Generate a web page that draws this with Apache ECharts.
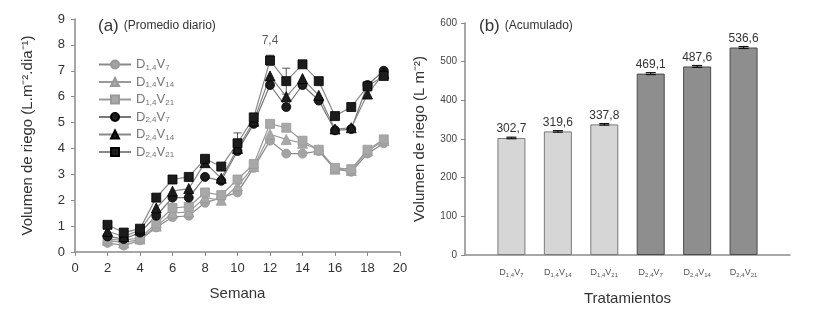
<!DOCTYPE html>
<html>
<head>
<meta charset="UTF-8">
<title>Volumen de riego</title>
<script src="https://cdn.jsdelivr.net/npm/echarts@6/dist/echarts.min.js"></script>
<style>
  html, body { margin: 0; padding: 0; background: #fff; }
  #main { width: 813px; height: 318px; }
</style>
</head>
<body>
<div id="main"></div>
<script>
// semanas
const weeks = [2, 3, 4, 5, 6, 7, 8, 9, 10, 11, 12, 13, 14, 15, 16, 17, 18, 19];
// promedio diario (L m-2 dia-1)
const d14v7  = [0.35, 0.25, 0.45, 0.95, 1.35, 1.4, 1.9, 2.1, 2.3, 3.25, 4.3, 3.8, 3.8, 3.9, 3.2, 3.1, 3.8, 4.2];
const d14v14 = [0.45, 0.35, 0.5, 1.0, 1.5, 1.55, 2.1, 2.0, 2.55, 3.3, 4.55, 4.35, 4.2, 3.95, 3.2, 3.15, 3.9, 4.3];
const d14v21 = [0.5, 0.45, 0.55, 1.1, 1.7, 1.75, 2.3, 2.2, 2.8, 3.4, 4.95, 4.8, 4.3, 3.95, 3.25, 3.2, 3.95, 4.35];
const d24v7  = [0.6, 0.5, 0.75, 1.4, 2.1, 2.1, 2.9, 2.75, 3.9, 4.95, 6.45, 5.6, 6.45, 5.85, 4.7, 4.75, 6.45, 7.0];
const d24v14 = [0.8, 0.6, 0.85, 1.7, 2.35, 2.45, 3.45, 2.85, 4.0, 5.05, 6.8, 6.0, 6.7, 6.05, 4.75, 4.8, 6.1, 6.9];
const d24v21 = [1.05, 0.75, 0.9, 2.1, 2.8, 2.9, 3.6, 3.3, 4.2, 5.2, 7.4, 6.6, 7.25, 6.6, 5.25, 5.6, 6.4, 6.8];
// error (solo los visibles)
const d24v21Err = [0, 0, 0, 0, 0, 0, 0.1, 0, 0.4, 0, 0.2, 0.5, 0, 0.1, 0, 0, 0, 0];

// acumulado
const treatments = ['D1,4V7', 'D1,4V14', 'D1,4V21', 'D2,4V7', 'D2,4V14', 'D2,4V21'];
const accum = [302.7, 319.6, 337.8, 469.1, 487.6, 536.6];
const accumErr = [2, 2, 2, 2.5, 2.5, 2.5];

const lineTicks = [0, 1, 2, 3, 4, 5, 6, 7, 8, 9];
const barTicks = [0, 100, 200, 300, 400, 500, 600];

const fontFam = 'Liberation Sans, Arial, sans-serif';

function sub(name, big, small) {
  const m = name.match(/D(.+)V(.+)/);
  return `{${big}|D}{${small}|${m[1]}}{${big}|V}{${small}|${m[2]}}`;
}

const chart = echarts.init(document.getElementById('main'));

const lineSeriesDef = [
  { name: 'D1,4V7',  data: d14v7,  symbol: 'circle',   fill: '#a3a3a3', line: '#8a8a8a' },
  { name: 'D1,4V14', data: d14v14, symbol: 'triangle', fill: '#a8a8a8', line: '#9a9a9a' },
  { name: 'D1,4V21', data: d14v21, symbol: 'rect',     fill: '#a8a8a8', line: '#9a9a9a' },
  { name: 'D2,4V7',  data: d24v7,  symbol: 'circle',   fill: '#1c1c1c', line: '#777' },
  { name: 'D2,4V14', data: d24v14, symbol: 'triangle', fill: '#1c1c1c', line: '#888' },
  { name: 'D2,4V21', data: d24v21, symbol: 'rect',     fill: '#1c1c1c', line: '#888' }
];

const series = lineSeriesDef.map(s => ({
  name: s.name,
  type: 'line',
  xAxisIndex: 0,
  yAxisIndex: 0,
  data: weeks.map((w, i) => [w, s.data[i]]),
  symbol: s.symbol,
  symbolSize: s.symbol === 'triangle' ? 10 : 9,
  lineStyle: { color: s.line, width: 1.2 },
  itemStyle: { color: s.fill, borderColor: s.fill === '#1c1c1c' ? '#000' : '#999', borderWidth: 0.8 },
  z: 3
}));

// barras de error serie D2,4V21
series.push({
  type: 'custom',
  xAxisIndex: 0,
  yAxisIndex: 0,
  data: weeks.map((w, i) => [w, d24v21[i], d24v21Err[i]]).filter(d => d[2] > 0),
  renderItem: function (params, api) {
    const x = api.value(0), y = api.value(1), e = api.value(2);
    const top = api.coord([x, y + e]);
    const bot = api.coord([x, y - e]);
    const style = { stroke: '#555', lineWidth: 1 };
    return {
      type: 'group',
      children: [
        { type: 'line', shape: { x1: top[0], y1: top[1], x2: bot[0], y2: bot[1] }, style },
        { type: 'line', shape: { x1: top[0] - 4, y1: top[1], x2: top[0] + 4, y2: top[1] }, style },
        { type: 'line', shape: { x1: bot[0] - 4, y1: bot[1], x2: bot[0] + 4, y2: bot[1] }, style }
      ]
    };
  },
  z: 2,
  silent: true
});

// etiqueta del maximo
series.push({
  type: 'scatter',
  xAxisIndex: 0,
  yAxisIndex: 0,
  data: [[12, 7.4]],
  symbolSize: 0,
  label: {
    show: true,
    position: 'top',
    distance: 14,
    formatter: p => String(p.value[1]).replace('.', ','),
    color: '#333',
    fontSize: 12,
    fontFamily: fontFam
  },
  silent: true
});

const barColors = ['#d6d6d6', '#d6d6d6', '#d6d6d6', '#8e8e8e', '#8e8e8e', '#8e8e8e'];

series.push({
  type: 'bar',
  xAxisIndex: 1,
  yAxisIndex: 1,
  barWidth: 28,
  data: accum.map((v, i) => ({
    value: [i + 1, v],
    itemStyle: { color: barColors[i], borderColor: i < 3 ? '#7a7a7a' : '#4a4a4a', borderWidth: 1 }
  })),
  label: {
    show: true,
    position: 'top',
    distance: 3,
    formatter: p => p.value[1].toFixed(1).replace('.', ','),
    color: '#333',
    fontSize: 12,
    fontFamily: fontFam
  }
});

series.push({
  type: 'custom',
  xAxisIndex: 1,
  yAxisIndex: 1,
  data: accum.map((v, i) => [i + 1, v, accumErr[i]]),
  renderItem: function (params, api) {
    const x = api.value(0), y = api.value(1), e = api.value(2);
    const top = api.coord([x, y + e]);
    const bot = api.coord([x, y - e]);
    const style = { stroke: '#111', lineWidth: 1.2 };
    return {
      type: 'group',
      children: [
        { type: 'line', shape: { x1: top[0], y1: top[1], x2: bot[0], y2: bot[1] }, style },
        { type: 'line', shape: { x1: top[0] - 5, y1: top[1], x2: top[0] + 5, y2: top[1] }, style },
        { type: 'line', shape: { x1: bot[0] - 5, y1: bot[1], x2: bot[0] + 5, y2: bot[1] }, style }
      ]
    };
  },
  z: 5,
  silent: true
});

const axisLineStyle = { color: '#8a8a8a', width: 1.5 };

const titleRich = {
  a: { fontSize: 17, color: '#333', fontWeight: 'normal', fontFamily: fontFam },
  b: { fontSize: 12, color: '#333', fontWeight: 'normal', fontFamily: fontFam }
};

const option = {
  animation: false,
  textStyle: { fontFamily: fontFam },
  title: [
    {
      text: '{a|(a)} {b|(Promedio diario)}',
      left: 93, top: 12,
      textStyle: { fontWeight: 'normal', rich: titleRich }
    },
    {
      text: '{a|(b)} {b|(Acumulado)}',
      left: 474, top: 12,
      textStyle: { fontWeight: 'normal', rich: titleRich }
    }
  ],
  legend: {
    orient: 'vertical',
    left: 93,
    top: 53,
    itemWidth: 32,
    itemHeight: 10,
    itemGap: 4,
    data: treatments,
    formatter: name => sub(name, 'n', 's'),
    textStyle: {
      color: '#777',
      rich: {
        n: { fontSize: 13, lineHeight: 14, color: '#777', fontFamily: fontFam },
        s: { fontSize: 8, lineHeight: 6, verticalAlign: 'bottom', color: '#777', fontFamily: fontFam }
      }
    }
  },
  grid: [
    { left: 75, top: 19, width: 325, height: 233 },
    { left: 465, top: 23, width: 325, height: 232 }
  ],
  xAxis: [
    {
      type: 'value',
      gridIndex: 0,
      min: 0, max: 20, interval: 2,
      name: 'Semana',
      nameLocation: 'middle',
      nameGap: 34,
      nameTextStyle: { fontSize: 15, color: '#333', fontFamily: fontFam },
      axisLine: { show: true, lineStyle: axisLineStyle },
      axisTick: { show: true, lineStyle: { color: '#8a8a8a' }, length: 4 },
      axisLabel: { fontSize: 13, color: '#333', margin: 10 },
      splitLine: { show: false }
    },
    {
      type: 'value',
      gridIndex: 1,
      min: 0, max: 7, interval: 1,
      name: 'Tratamientos',
      nameLocation: 'middle',
      nameGap: 36,
      nameTextStyle: { fontSize: 15, color: '#333', fontFamily: fontFam },
      axisLine: { show: true, lineStyle: axisLineStyle },
      axisTick: { show: false },
      axisLabel: {
        margin: 13,
        formatter: v => (v >= 1 && v <= 6) ? sub(treatments[v - 1], 'n', 's') : '',
        rich: {
          n: { fontSize: 9, lineHeight: 10, color: '#555', fontFamily: fontFam },
          s: { fontSize: 6, lineHeight: 4, verticalAlign: 'bottom', color: '#555', fontFamily: fontFam }
        }
      },
      splitLine: { show: false }
    }
  ],
  yAxis: [
    {
      type: 'value',
      gridIndex: 0,
      min: lineTicks[0], max: lineTicks[lineTicks.length - 1], interval: 1,
      name: 'Volumen de riego (L.m⁻².dia⁻¹)',
      nameLocation: 'middle',
      nameGap: 40,
      nameTextStyle: { fontSize: 15, color: '#333', fontFamily: fontFam },
      axisLine: { show: true, lineStyle: axisLineStyle },
      axisTick: { show: true, lineStyle: { color: '#8a8a8a' }, length: 4 },
      axisLabel: { fontSize: 13, color: '#333', margin: 10 },
      splitLine: { show: false }
    },
    {
      type: 'value',
      gridIndex: 1,
      min: barTicks[0], max: barTicks[barTicks.length - 1], interval: 100,
      name: 'Volumen de riego (L m⁻²)',
      nameLocation: 'middle',
      nameGap: 38,
      nameTextStyle: { fontSize: 15, color: '#333', fontFamily: fontFam },
      axisLine: { show: true, lineStyle: axisLineStyle },
      axisTick: { show: true, lineStyle: { color: '#8a8a8a' }, length: 4 },
      axisLabel: { fontSize: 10, color: '#444', margin: 8 },
      splitLine: { show: false }
    }
  ],
  series: series
};

chart.setOption(option);
</script>
</body>
</html>
